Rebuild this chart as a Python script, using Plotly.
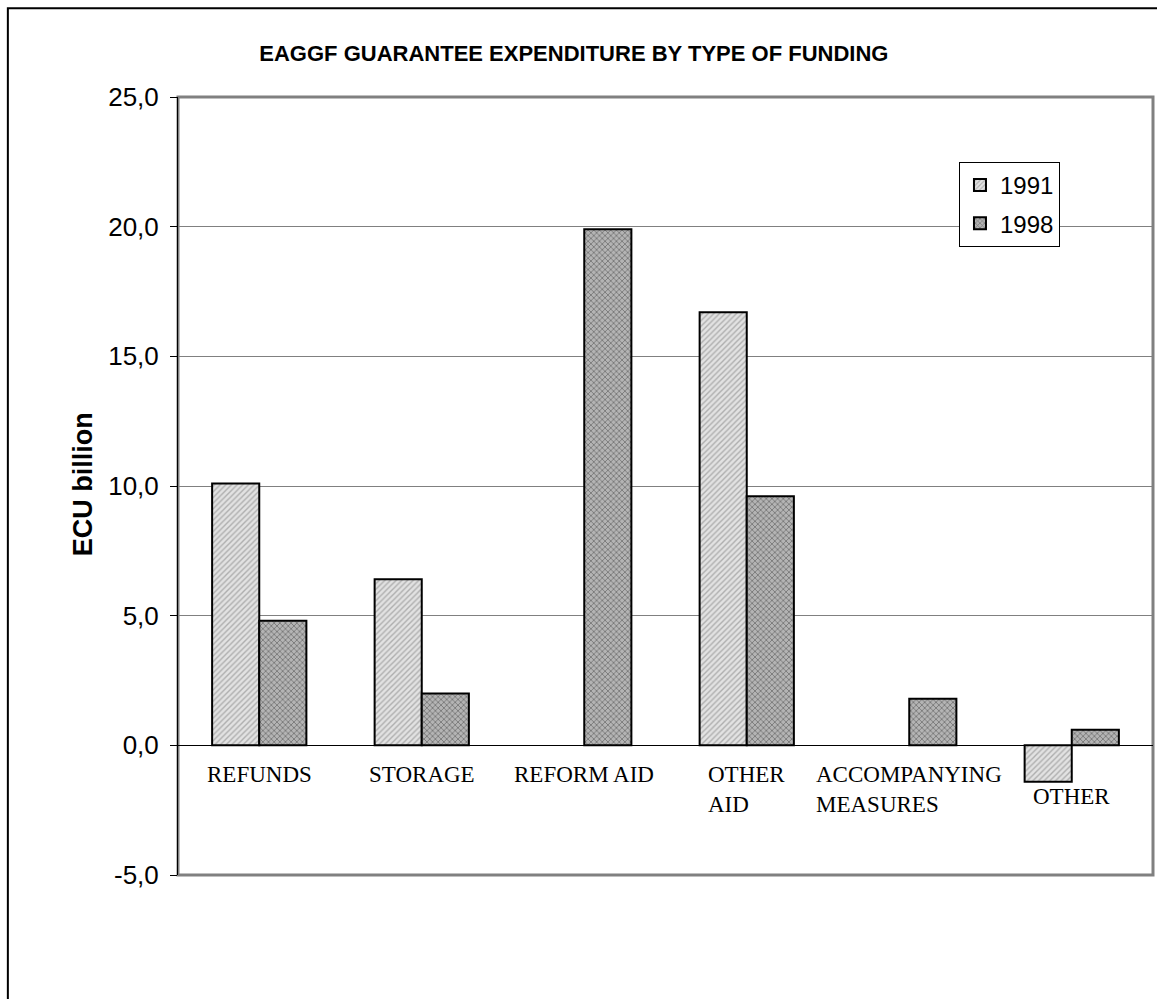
import plotly.graph_objects as go

categories = ["REFUNDS", "STORAGE", "REFORM AID", "OTHER AID", "ACCOMPANYING MEASURES", "OTHER"]
cat_labels = ["REFUNDS", "STORAGE", "REFORM AID", "OTHER<br>AID", "ACCOMPANYING<br>MEASURES", "OTHER"]
values_1991 = [10.1, 6.4, None, 16.7, None, -1.4]
values_1998 = [4.8, 2.0, 19.9, 9.6, 1.8, 0.6]
tick_vals = [-5, 0, 5, 10, 15, 20, 25]
tick_text = ["-5,0", "0,0", "5,0", "10,0", "15,0", "20,0", "25,0"]

fig = go.Figure()
fig.add_trace(go.Bar(
    x=categories, y=values_1991, name="1991", legendgroup="a",
    marker=dict(color="#dcdcdc", line=dict(color="black", width=2),
                pattern=dict(shape="/", fgcolor="#7a7a7a", bgcolor="#e2e2e2", size=4, solidity=0.35)),
))
fig.add_trace(go.Bar(
    x=categories, y=values_1998, name="1998", legendgroup="b",
    marker=dict(color="#8c8c8c", line=dict(color="black", width=2),
                pattern=dict(shape="x", fgcolor="#3c3c3c", bgcolor="#b4b4b4", size=4, solidity=0.4)),
))

annotations = []
for i, (c, lab) in enumerate(zip(categories, cat_labels)):
    if i == len(categories) - 1:
        annotations.append(dict(x=c, y=-1.96, xref="x", yref="y", text=lab, showarrow=False,
                                yanchor="middle", xanchor="center", align="left",
                                font=dict(family="Liberation Serif", size=23, color="black")))
    else:
        annotations.append(dict(x=c, y=-0.55, xref="x", yref="y", text=lab, showarrow=False,
                                yanchor="top", xanchor="center", align="left",
                                font=dict(family="Liberation Serif", size=23, color="black")))

annotations.append(dict(x=-0.0965, y=0.502, xref="paper", yref="paper", text="<b>ECU billion</b>",
                        textangle=-90, showarrow=False, xanchor="center", yanchor="middle",
                        font=dict(family="Liberation Sans, Arial", size=27, color="black")))

fig.update_layout(
    width=1157, height=999,
    margin=dict(l=178, r=4, t=97, b=124),
    paper_bgcolor="white", plot_bgcolor="white",
    separators=",.",
    bargap=0.42, bargroupgap=0,
    title=dict(text="<b>EAGGF GUARANTEE EXPENDITURE BY TYPE OF FUNDING</b>",
               x=0.496, xref="container", xanchor="center",
               y=0.947, yref="container", yanchor="middle",
               font=dict(family="Liberation Sans, Arial", size=22, color="black")),
    legend=dict(x=0.801, y=0.9166, xanchor="left", yanchor="top",
                bgcolor="white", bordercolor="black", borderwidth=1,
                font=dict(family="Liberation Sans, Arial", size=24, color="black"),
                tracegroupgap=4),
    xaxis=dict(showticklabels=False, showgrid=False, showline=False, ticks="",
               range=[-0.5, 5.5], fixedrange=True),
    yaxis=dict(range=[-5, 25], tickvals=tick_vals, ticktext=tick_text,
               showgrid=True, gridcolor="#808080", gridwidth=1,
               zeroline=True, zerolinecolor="black", zerolinewidth=1,
               showline=True, linecolor="black", linewidth=1,
               ticks="outside", ticklen=7, tickcolor="black", ticklabelstandoff=6,
               tickfont=dict(family="Liberation Sans, Arial", size=26, color="black")),
    annotations=annotations,
    shapes=[
        dict(type="rect", xref="paper", yref="paper", x0=0, x1=1, y0=0, y1=1,
             line=dict(color="#808080", width=3), layer="below"),
        dict(type="rect", xref="paper", yref="paper", x0=-0.1745, x1=1.05, y0=-0.2, y1=1.1142,
             line=dict(color="black", width=2), layer="below"),
    ],
)

fig.write_html("out.html", config={"displayModeBar": False},
               post_script="document.body.style.margin='0px';")
